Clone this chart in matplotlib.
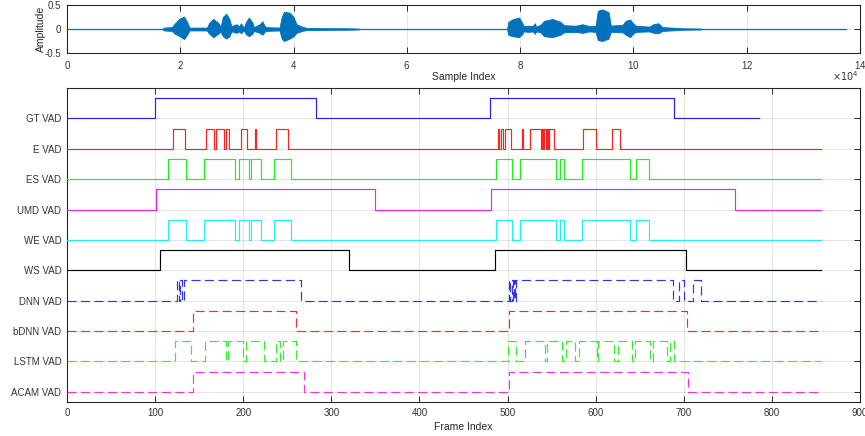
import numpy as np
import matplotlib
matplotlib.use('Agg')
import matplotlib.pyplot as plt
from matplotlib.ticker import ScalarFormatter

plt.rcParams['font.family'] = ['Liberation Sans', 'DejaVu Sans']
plt.rcParams['axes.unicode_minus'] = False
plt.rcParams['lines.scale_dashes'] = False

# ---------------- waveform (envelope) ----------------
wave_span = [0, 137500]
env_x = [16870, 17100, 18500, 19050, 19900, 20650, 21200, 21600, 24700, 25100,
         25800, 26700, 27100, 27500, 28100, 28700, 29000, 29900, 30400, 30700,
         31200, 31600, 32100, 32700, 33000, 34000, 34500, 35000, 37500, 37900,
         38300, 39300, 40000, 40500, 41500, 42400, 49400, 51500, 51600,
         77600, 77700, 77900, 78600, 79800, 80400, 80600, 81500, 82200, 82600,
         82800, 83600, 84200, 85700, 87100, 87700, 89800, 91000, 92200, 93300,
         93700, 94500, 95600, 96000, 98100, 98600, 99400, 99900, 100400, 102800,
         103500, 104400, 105100, 107500, 108700, 111900, 112000]
env_up = [0.01, 0.03, 0.04, 0.12, 0.22, 0.26, 0.15, 0.03, 0.03, 0.13,
          0.21, 0.13, 0.05, 0.25, 0.32, 0.20, 0.06, 0.10, 0.06, 0.12,
          0.03, 0.15, 0.24, 0.14, 0.04, 0.10, 0.16, 0.04, 0.03, 0.25,
          0.36, 0.34, 0.25, 0.10, 0.05, 0.02, 0.015, 0.01, 0.0,
          0.0, 0.01, 0.15, 0.20, 0.24, 0.12, 0.06, 0.07, 0.06, 0.12,
          0.05, 0.09, 0.17, 0.21, 0.15, 0.08, 0.07, 0.10, 0.06, 0.07,
          0.38, 0.41, 0.35, 0.07, 0.09, 0.17, 0.20, 0.12, 0.07, 0.05,
          0.10, 0.12, 0.04, 0.025, 0.015, 0.01, 0.0]
env_low = [-0.01, -0.03, -0.04, -0.10, -0.15, -0.21, -0.12, -0.03, -0.03, -0.10,
           -0.17, -0.10, -0.05, -0.15, -0.20, -0.15, -0.05, -0.08, -0.05, -0.09,
           -0.03, -0.11, -0.15, -0.10, -0.04, -0.08, -0.12, -0.04, -0.03, -0.20,
           -0.25, -0.20, -0.15, -0.08, -0.04, -0.02, -0.015, -0.01, 0.0,
           0.0, -0.01, -0.12, -0.15, -0.17, -0.10, -0.05, -0.06, -0.05, -0.10,
           -0.05, -0.07, -0.15, -0.17, -0.12, -0.07, -0.06, -0.08, -0.05, -0.06,
           -0.23, -0.25, -0.20, -0.06, -0.07, -0.12, -0.17, -0.10, -0.06, -0.05,
           -0.08, -0.09, -0.04, -0.025, -0.015, -0.01, 0.0]

# ---------------- VAD decisions (frame intervals where VAD = 1) ----------------
vad_labels = ['GT VAD', 'E VAD', 'ES VAD', 'UMD VAD', 'WE VAD', 'WS VAD',
              'DNN VAD', 'bDNN VAD', 'LSTM VAD', 'ACAM VAD']
vad_lengths = [785, 856, 856, 856, 856, 856, 856, 856, 856, 856]

gt_vad = [(100, 282), (480, 689)]
e_vad = [(120, 134), (157.5, 167), (169, 178.5), (180.5, 184), (197, 204), (213.5, 215),
         (237, 251), (488.8, 490.3), (492.4, 494.7), (497, 504), (516, 517.5),
         (525, 537.5), (538.6, 540), (541.7, 543), (544.5, 546), (547, 553),
         (586, 600), (618, 628)]
es_vad = [(114.5, 135), (156, 190.5), (195, 206), (209, 220), (234.5, 254.5),
          (487, 504.5), (514.5, 555), (559.5, 564), (584, 638.5), (645.5, 660)]
umd_vad = [(101, 350), (480.7, 757.6)]
we_vad = [(114.5, 135), (156, 190.5), (195, 206), (209, 220), (234.5, 254.5),
          (487, 504.5), (514.5, 555), (559.5, 564), (584, 638.5), (645.5, 660)]
ws_vad = [(105, 319.5), (486, 702)]
dnn_vad = [(125, 127), (128, 130), (132.4, 266), (501.5, 503), (504.5, 506),
           (507.5, 508.5), (510, 688), (695, 700), (710, 719)]
bdnn_vad = [(143, 260.4), (501.5, 703.4)]
lstm_vad = [(122.5, 141), (157, 180), (183, 200), (203, 223), (237, 242), (245, 260),
            (500, 510), (520, 542), (545, 562), (566, 577), (581, 601), (603, 621),
            (625, 641), (645, 662), (665, 681), (684, 689)]
acam_vad = [(143, 269), (501.5, 705)]

vad_data = [gt_vad, e_vad, es_vad, umd_vad, we_vad, ws_vad,
            dnn_vad, bdnn_vad, lstm_vad, acam_vad]
vad_colors = ['#2020FF', '#FF2020', '#20F020', '#F020F0', '#20F0F0', '#000000',
              '#3030FF', '#E83030', '#30F030', '#F030F0']
vad_dashed = [False] * 6 + [True] * 4

frame_ticks = list(range(0, 1000, 100))
sample_ticks = list(range(0, 160000, 20000))
amp_ticks = [-0.5, 0, 0.5]

# ---------------- figure ----------------
fig = plt.figure(figsize=(8.65, 4.36), dpi=100)
ax1 = fig.add_axes([0.0775, 0.8784, 0.9168, 0.1101])
ax2 = fig.add_axes([0.0775, 0.0780, 0.9168, 0.7202])

axcol = '#262626'
gridkw = dict(color='#000000', alpha=0.12, linewidth=0.6)

# waveform panel
wcol = '#0072BD'
ax1.plot(wave_span, [0, 0], color=wcol, linewidth=0.9, zorder=3)
ax1.fill_between(env_x, env_low, env_up, color=wcol, linewidth=0.6,
                 edgecolor=wcol, zorder=3)
ax1.set_xlim(0, 140000)
ax1.set_ylim(-0.5, 0.5)
ax1.set_xticks(sample_ticks)
ax1.set_yticks(amp_ticks)
ax1.set_yticklabels(['-0.5', '0', '0.5'])
fmt = ScalarFormatter(useMathText=True)
fmt.set_powerlimits((4, 4))
ax1.xaxis.set_major_formatter(fmt)
ax1.xaxis.get_offset_text().set_visible(False)
ax1.text(0.998, -0.33, r'$\times10^{4}$', transform=ax1.transAxes, ha='right',
         va='top', fontsize=7, color='#333333')
ax1.grid(True, **gridkw)
ax1.set_axisbelow(True)
ax1.set_xlabel('Sample Index', fontsize=7.5, color=axcol, labelpad=1)
ax1.set_ylabel('Amplitude', fontsize=7.5, color=axcol)
ax1.yaxis.set_label_coords(-0.026, 0.5)

# VAD panel
step = 1.5
baselines = []
for i, (segs, length) in enumerate(zip(vad_data, vad_lengths)):
    base = -i * step
    baselines.append(base)
    xs = [0]
    ys = [base]
    for a, b in segs:
        xs += [a, a, b, b]
        ys += [base, base + 1, base + 1, base]
    xs.append(length)
    ys.append(base)
    kw = dict(color=vad_colors[i], linewidth=0.85, zorder=3)
    if vad_dashed[i]:
        ax2.plot(xs, ys, dashes=(6.5, 3.2), **kw)
    else:
        ax2.plot(xs, ys, **kw)

ax2.set_xlim(0, 900)
ax2.set_ylim(-14, 1.5)
ax2.set_xticks(frame_ticks)
ax2.set_yticks(baselines)
ax2.set_yticklabels(vad_labels)
ax2.grid(True, **gridkw)
ax2.set_axisbelow(True)
ax2.set_xlabel('Frame Index', fontsize=7.5, color=axcol, labelpad=3.5)

for ax in (ax1, ax2):
    for sp in ax.spines.values():
        sp.set_color(axcol)
        sp.set_linewidth(0.8)
    ax.tick_params(direction='in', length=4.5, width=0.7, top=True, right=True,
                   colors=axcol, labelsize=7, labelcolor='#333333', pad=4)

fig.savefig('out.png', dpi=100)
